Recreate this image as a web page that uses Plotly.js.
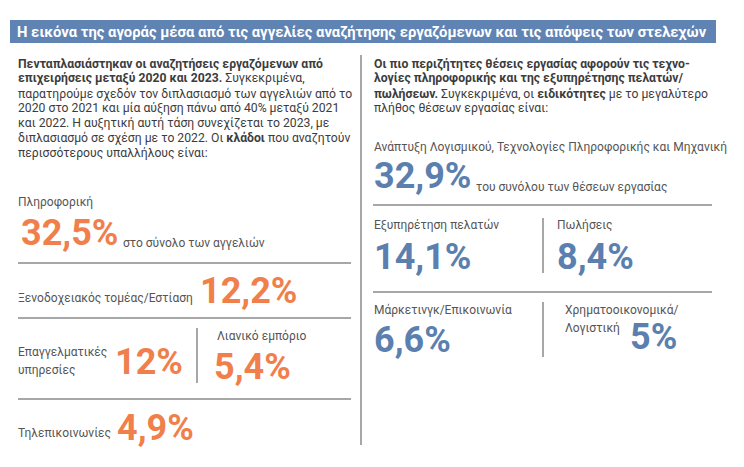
<!DOCTYPE html>
<html><head><meta charset="utf-8">
<script src="https://cdn.plot.ly/plotly-3.0.1.min.js"></script>
<style>html,body{margin:0;padding:0;background:#fff}</style>
</head><body><div id="chart" style="width:744px;height:467px"></div>
<script>
// ---------- data ----------
const headerTitle = "Η εικόνα της αγοράς μέσα από τις αγγελίες αναζήτησης εργαζόμενων και τις απόψεις των στελεχών";
const leftIntro = [
  "<b>Πενταπλασιάστηκαν οι αναζητήσεις εργαζόμενων από</b>",
  "<b>επιχειρήσεις μεταξύ 2020 και 2023.</b> Συγκεκριμένα,",
  "παρατηρούμε σχεδόν τον διπλασιασμό των αγγελιών από το",
  "2020 στο 2021 και μία αύξηση πάνω από 40% μεταξύ 2021",
  "και 2022. Η αυξητική αυτή τάση συνεχίζεται το 2023, με",
  "διπλασιασμό σε σχέση με το 2022. Οι <b>κλάδοι</b> που αναζητούν",
  "περισσότερους υπαλλήλους είναι:"
];
const rightIntro = [
  "<b>Οι πιο περιζήτητες θέσεις εργασίας αφορούν τις τεχνο-</b>",
  "<b>λογίες πληροφορικής και της εξυπηρέτησης πελατών/</b>",
  "<b>πωλήσεων.</b> Συγκεκριμένα, οι <b>ειδικότητες</b> με το μεγαλύτερο",
  "πλήθος θέσεων εργασίας είναι:"
];
const sectors = ["Πληροφορική", "Ξενοδοχειακός τομέας/Εστίαση", "Επαγγελματικές<br>υπηρεσίες", "Λιανικό εμπόριο", "Τηλεπικοινωνίες"];
const sectorShares = [32.5, 12.2, 12, 5.4, 4.9];
const sectorNote = "στο σύνολο των αγγελιών";
const specialties = ["Ανάπτυξη Λογισμικού, Τεχνολογίες Πληροφορικής και Μηχανική", "Εξυπηρέτηση πελατών", "Πωλήσεις", "Μάρκετινγκ/Επικοινωνία", "Χρηματοοικονομικά/<br>Λογιστική"];
const specialtyShares = [32.9, 14.1, 8.4, 6.6, 5];
const specialtyNote = "του συνόλου των θέσεων εργασίας";

// ---------- layout / styling ----------
const FONT = "Roboto, 'Noto Sans', sans-serif";
const ORANGE = "#f07f4c", BLUE = "#5b7fae", GREY = "#555555", HEAD = "#5f83b3", RULE = "#8a8a8a";
const fmt = v => String(v).replace(".", ",") + "%";

// positions (px) for labels and numbers
const sectorLabelPos = [[17, 202], [17, 298], [17, 352], [216, 336], [17, 433]];
const sectorNumPos = [[20, 233], [199, 291], [114, 362], [213, 367], [116, 428]];
const specLabelPos = [[373, 147], [373, 225], [556, 225], [373, 310], [564, 310]];
const specNumPos = [[373, 176], [373, 257], [556, 257], [373, 340], [629, 337]];
const LINE_GAP = 18;
const NUM_SIZE = 36, LABEL_SIZE = 12;

const ann = [];
function txt(x, y, text, size, color, extra) {
  ann.push(Object.assign({
    x: x, y: y, xref: "x", yref: "y", text: text, showarrow: false,
    xanchor: "left", yanchor: "middle", align: "left",
    font: {family: FONT, size: size, color: color}, borderpad: 0
  }, extra || {}));
}

// header
txt(16, 31.5, "<b>" + headerTitle + "</b>", 14.8, "#ffffff");

// intros
leftIntro.forEach((t, i) => txt(17, 64 + i * 14.8, t, 12.2, "#3c3c3c"));
rightIntro.forEach((t, i) => txt(373, 64 + i * 14.8, t, 12.2, "#3c3c3c"));

// sector labels and numbers
sectors.forEach((s, i) => {
  s.split("<br>").forEach((line, j) => txt(sectorLabelPos[i][0], sectorLabelPos[i][1] + j * LINE_GAP, line, LABEL_SIZE, GREY));
  txt(sectorNumPos[i][0], sectorNumPos[i][1], "<b>" + fmt(sectorShares[i]) + "</b>", NUM_SIZE, ORANGE);
});
txt(122, 243, sectorNote, LABEL_SIZE, GREY);

specialties.forEach((s, i) => {
  s.split("<br>").forEach((line, j) => txt(specLabelPos[i][0], specLabelPos[i][1] + j * LINE_GAP, line, LABEL_SIZE, GREY));
  txt(specNumPos[i][0], specNumPos[i][1], "<b>" + fmt(specialtyShares[i]) + "</b>", NUM_SIZE, BLUE);
});
txt(475, 187, specialtyNote, LABEL_SIZE, GREY);

const line = (x0, y0, x1, y1, w) => ({type: "line", xref: "x", yref: "y", x0, y0, x1, y1, line: {color: RULE, width: w || 1.5}});
const shapes = [
  {type: "rect", xref: "x", yref: "y", x0: 10, x1: 716, y0: 20, y1: 43, fillcolor: HEAD, line: {width: 0}, layer: "below"},
  line(361, 55, 361, 445, 1.5),
  line(18, 263, 351, 263), line(18, 318, 351, 318), line(18, 399, 351, 399),
  line(197, 328, 197, 383),
  line(373, 205, 712, 205), line(373, 292, 712, 292),
  line(543, 218, 543, 273), line(543, 302, 543, 357)
];

const layout = {
  width: 744, height: 467, margin: {l: 0, r: 0, t: 0, b: 0},
  paper_bgcolor: "#ffffff", plot_bgcolor: "#ffffff",
  xaxis: {range: [0, 744], visible: false, fixedrange: true},
  yaxis: {range: [467, 0], visible: false, fixedrange: true},
  showlegend: false, annotations: ann, shapes: shapes
};
Plotly.newPlot("chart", [], layout, {displayModeBar: false, staticPlot: true});
</script></body></html>
